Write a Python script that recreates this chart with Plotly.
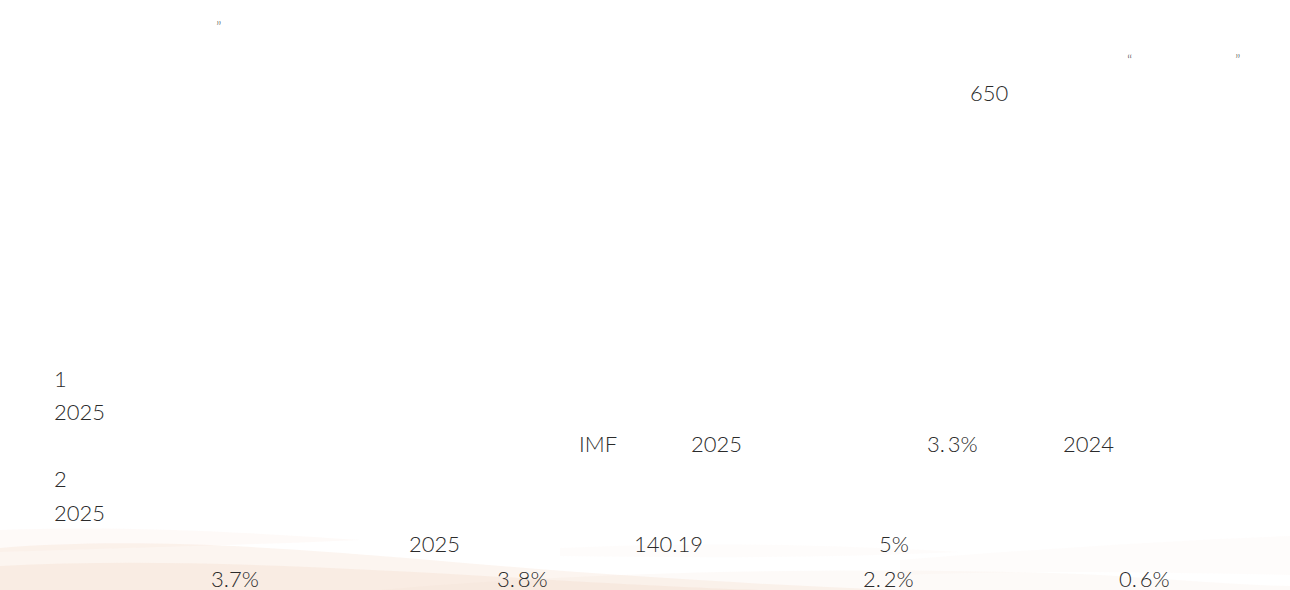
import plotly.graph_objects as go

# Visible text fragments of the page (the CJK text in the reference is not rendered)
labels = ["\u201d", "\u201c", "\u201d", "650",
          "1", "2025",
          "IMF", "2025", "3.3%", "2024",
          "2", "2025",
          "2025", "140.19", "5%",
          "3.7%", "3.8%", "2.2%", "0.6%"]
label_x = [217, 1128, 1236, 971,
           55, 55,
           580, 692, 928, 1064,
           55, 55,
           410, 635, 880,
           212, 498, 864, 1120]
label_y = [23, 56, 56, 94,
           380, 413,
           445, 445, 445, 445,
           480, 514,
           545, 545, 545,
           580, 580, 580, 580]
label_size = [16, 16, 16, 22,
              22, 22,
              22, 22, 22, 22,
              22, 22,
              22, 22, 22,
              22, 22, 22, 22]

def display(t):
    # reference shows a gap after the decimal point in some percentages
    if t in ("3.3%", "3.8%", "2.2%", "0.6%"):
        return t.replace(".", ".\u2009")
    return t

fig = go.Figure()
fig.add_trace(go.Scatter(x=[0, 1290], y=[0, 590], mode="markers",
                         marker=dict(opacity=0), hoverinfo="skip", showlegend=False))

for t, x, y, s in zip(labels, label_x, label_y, label_size):
    small = s < 20
    fig.add_annotation(x=x - 2, y=y + (3 if small else -2), xref="x", yref="y",
                       text=display(t),
                       showarrow=False, xanchor="left", yanchor="middle",
                       borderpad=0,
                       font=dict(family="Lato, Noto Sans CJK SC, sans-serif",
                                 size=s, weight=300,
                                 color="#555555" if small else "#2b2b2b"))

# faint brush-stroke background at the bottom
strokes = [
    ("M0,548 C120,538 260,545 430,560 C600,575 760,585 900,590 L0,590 Z", "rgba(242,205,180,0.20)"),
    ("M0,566 C150,558 320,566 520,578 C620,584 700,588 760,590 L0,590 Z", "rgba(240,200,170,0.18)"),
    ("M0,530 C100,526 220,530 360,540 C250,545 120,548 0,552 Z", "rgba(245,215,195,0.12)"),
    ("M380,590 C600,570 900,566 1100,575 C1180,580 1240,585 1290,586 L1290,590 Z", "rgba(242,215,195,0.12)"),
    ("M900,560 C1050,548 1180,540 1290,536 L1290,575 C1150,572 1020,570 900,575 Z", "rgba(242,218,200,0.08)"),
    ("M560,548 C700,542 820,544 960,552 C820,558 700,558 560,556 Z", "rgba(245,222,205,0.08)"),
]
for path, col in strokes:
    fig.add_shape(type="path", path=path, xref="x", yref="y",
                  fillcolor=col, line=dict(width=0), layer="below")

fig.update_xaxes(range=[0, 1290], visible=False, fixedrange=True)
fig.update_yaxes(range=[590, 0], visible=False, fixedrange=True)
fig.update_layout(width=1290, height=590, margin=dict(l=0, r=0, t=0, b=0),
                  paper_bgcolor="white", plot_bgcolor="white", showlegend=False)

fig.write_html("out.html", config={"displayModeBar": False},
               post_script="document.body.style.margin='0';document.body.style.overflow='hidden';")
